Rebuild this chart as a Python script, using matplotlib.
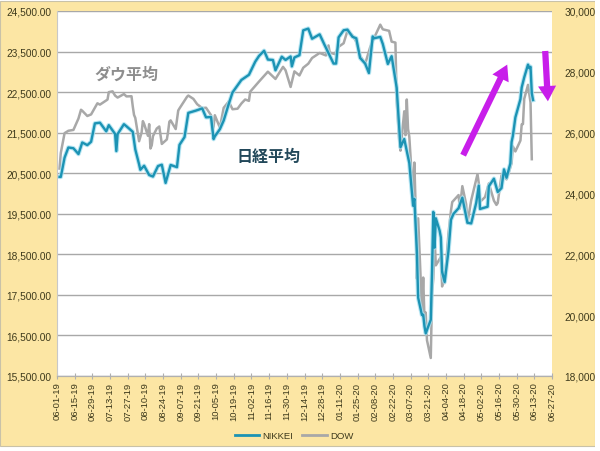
import numpy as np
import pandas as pd
import matplotlib
matplotlib.use('Agg')
import matplotlib.pyplot as plt
import matplotlib.dates as mdates
import matplotlib.patheffects as pe
from matplotlib.patches import Rectangle
from matplotlib.ticker import FuncFormatter

plt.rcParams['font.family'] = ['Liberation Sans', 'Noto Sans CJK JP', 'DejaVu Sans']

# ---- data ----
nk_dates = ['2019-06-03', '2019-06-04', '2019-06-07', '2019-06-10', '2019-06-14', '2019-06-18',
            '2019-06-21', '2019-06-25', '2019-06-28', '2019-07-01', '2019-07-05', '2019-07-10',
            '2019-07-12', '2019-07-17', '2019-07-18', '2019-07-19', '2019-07-24', '2019-07-26',
            '2019-07-31', '2019-08-02', '2019-08-05', '2019-08-06', '2019-08-09', '2019-08-13',
            '2019-08-16', '2019-08-20', '2019-08-23', '2019-08-26', '2019-08-30', '2019-09-04',
            '2019-09-06', '2019-09-10', '2019-09-13', '2019-09-19', '2019-09-24', '2019-09-27',
            '2019-10-01', '2019-10-03', '2019-10-04', '2019-10-08', '2019-10-11', '2019-10-15',
            '2019-10-18', '2019-10-25', '2019-10-31', '2019-11-05', '2019-11-08', '2019-11-12',
            '2019-11-15', '2019-11-19', '2019-11-21', '2019-11-26', '2019-11-29', '2019-12-03',
            '2019-12-04', '2019-12-06', '2019-12-10', '2019-12-13', '2019-12-17', '2019-12-20',
            '2019-12-26', '2019-12-30', '2020-01-06', '2020-01-08', '2020-01-10', '2020-01-14',
            '2020-01-17', '2020-01-21', '2020-01-24', '2020-01-27', '2020-01-31', '2020-02-03',
            '2020-02-06', '2020-02-07', '2020-02-12', '2020-02-14', '2020-02-18', '2020-02-21',
            '2020-02-25', '2020-02-28', '2020-03-02', '2020-03-06', '2020-03-09', '2020-03-10',
            '2020-03-12', '2020-03-13', '2020-03-16', '2020-03-17', '2020-03-18', '2020-03-19',
            '2020-03-23', '2020-03-24', '2020-03-25', '2020-03-26', '2020-03-27', '2020-03-30',
            '2020-03-31', '2020-04-01', '2020-04-03', '2020-04-06', '2020-04-07', '2020-04-08',
            '2020-04-10', '2020-04-14', '2020-04-17', '2020-04-21', '2020-04-24', '2020-04-28',
            '2020-04-30', '2020-05-01', '2020-05-07', '2020-05-08', '2020-05-12', '2020-05-15',
            '2020-05-18', '2020-05-20', '2020-05-22', '2020-05-25', '2020-05-26', '2020-05-27',
            '2020-05-29', '2020-06-02', '2020-06-03', '2020-06-05', '2020-06-08', '2020-06-09',
            '2020-06-10', '2020-06-11', '2020-06-12']
nk_vals = [20410, 20408, 20884, 21134, 21116, 20972,
           21258, 21193, 21275, 21729, 21746, 21533,
           21685, 21469, 21046, 21466, 21709, 21658,
           21521, 21087, 20720, 20585, 20684, 20455,
           20418, 20677, 20710, 20261, 20704, 20649,
           21199, 21392, 21988, 22044, 22098, 21879,
           21885, 21341, 21410, 21587, 21799, 22207,
           22492, 22799, 22927, 23251, 23392, 23520,
           23303, 23292, 23038, 23373, 23293, 23379,
           23135, 23354, 23410, 24023, 24066, 23816,
           23924, 23656, 23204, 23204, 23850, 24025,
           24041, 23864, 23827, 23343, 23205, 22971,
           23873, 23827, 23861, 23687, 23194, 23386,
           22605, 21142, 21344, 20749, 19698, 19867,
           18559, 17431, 17002, 17011, 16726, 16552,
           16887, 18092, 19546, 18664, 19389, 19084,
           18917, 18065, 17820, 18576, 18950, 19353,
           19498, 19638, 19897, 19280, 19262, 19771,
           20193, 19619, 19674, 20179, 20366, 20037,
           20133, 20595, 20388, 20741, 21271, 21419,
           21877, 22325, 22613, 22863, 23178, 23091,
           23124, 22472, 22305]

dow_dates = ['2019-06-03', '2019-06-04', '2019-06-07', '2019-06-10', '2019-06-14', '2019-06-18',
             '2019-06-20', '2019-06-21', '2019-06-25', '2019-06-28', '2019-07-03', '2019-07-05',
             '2019-07-11', '2019-07-12', '2019-07-15', '2019-07-17', '2019-07-19', '2019-07-24',
             '2019-07-26', '2019-07-30', '2019-07-31', '2019-08-01', '2019-08-02', '2019-08-05',
             '2019-08-07', '2019-08-08', '2019-08-09', '2019-08-12', '2019-08-13', '2019-08-14',
             '2019-08-15', '2019-08-16', '2019-08-19', '2019-08-21', '2019-08-23', '2019-08-27',
             '2019-08-28', '2019-08-29', '2019-08-30', '2019-09-03', '2019-09-05', '2019-09-06',
             '2019-09-12', '2019-09-13', '2019-09-17', '2019-09-20', '2019-09-24', '2019-09-27',
             '2019-10-01', '2019-10-02', '2019-10-03', '2019-10-04', '2019-10-08', '2019-10-11',
             '2019-10-15', '2019-10-18', '2019-10-22', '2019-10-25', '2019-10-28', '2019-10-31',
             '2019-11-01', '2019-11-08', '2019-11-15', '2019-11-21', '2019-11-27', '2019-11-29',
             '2019-12-03', '2019-12-06', '2019-12-10', '2019-12-13', '2019-12-17', '2019-12-20',
             '2019-12-26', '2019-12-31', '2020-01-02', '2020-01-03', '2020-01-07', '2020-01-10',
             '2020-01-14', '2020-01-17', '2020-01-21', '2020-01-24', '2020-01-27', '2020-01-31',
             '2020-02-04', '2020-02-07', '2020-02-12', '2020-02-14', '2020-02-19', '2020-02-21',
             '2020-02-24', '2020-02-25', '2020-02-27', '2020-02-28', '2020-03-02', '2020-03-03',
             '2020-03-04', '2020-03-05', '2020-03-06', '2020-03-09', '2020-03-10', '2020-03-11',
             '2020-03-12', '2020-03-13', '2020-03-16', '2020-03-17', '2020-03-18', '2020-03-19',
             '2020-03-20', '2020-03-23', '2020-03-24', '2020-03-25', '2020-03-26', '2020-03-27',
             '2020-03-31', '2020-04-01', '2020-04-02', '2020-04-03', '2020-04-06', '2020-04-08',
             '2020-04-09', '2020-04-14', '2020-04-15', '2020-04-17', '2020-04-20', '2020-04-21',
             '2020-04-24', '2020-04-29', '2020-04-30', '2020-05-01', '2020-05-05', '2020-05-08',
             '2020-05-12', '2020-05-14', '2020-05-15', '2020-05-18', '2020-05-20', '2020-05-22',
             '2020-05-26', '2020-05-27', '2020-05-29', '2020-06-02', '2020-06-03', '2020-06-04',
             '2020-06-05', '2020-06-08', '2020-06-09', '2020-06-10', '2020-06-11']
dow_vals = [24820, 25332, 25984, 26062, 26090, 26465,
            26753, 26720, 26548, 26600, 26966, 26922,
            27088, 27332, 27359, 27219, 27154, 27270,
            27192, 27198, 26864, 26583, 26485, 25718,
            26007, 26378, 26287, 25897, 26280, 25480,
            25580, 25887, 26136, 26203, 25629, 25778,
            26036, 26363, 26403, 26118, 26728, 26797,
            27182, 27220, 27111, 26935, 26808, 26820,
            26573, 26078, 26201, 26573, 26164, 26817,
            27024, 26770, 26788, 26958, 27090, 27046,
            27347, 27681, 28005, 27766, 28164, 28051,
            27503, 28015, 27881, 28135, 28268, 28455,
            28621, 28538, 28868, 28634, 28583, 28823,
            28940, 29348, 29196, 28990, 28535, 28256,
            28808, 29103, 29551, 29398, 29348, 28992,
            28961, 27081, 25767, 25409, 26703, 25917,
            27091, 26121, 25865, 23851, 25018, 23553,
            21200, 23185, 20189, 21237, 19899, 20087,
            19174, 18592, 20704, 21201, 22552, 21637,
            21917, 20944, 21413, 21053, 22680, 23434,
            23719, 23949, 23505, 24242, 23650, 23019,
            23775, 24634, 24346, 23724, 23883, 24331,
            23765, 23625, 23685, 24597, 24576, 24465,
            24995, 25548, 25383, 25742, 26270, 26282,
            27111, 27572, 27273, 26990, 25128]

tick_start = '2019-06-01'
tick_end = '2020-06-27'
left_ticks = [15500, 16500, 17500, 18500, 19500, 20500, 21500, 22500, 23500, 24500]
right_ticks = [18000, 20000, 22000, 24000, 26000, 28000, 30000]

# ---- colours ----
bg_yellow = '#FCE6A4'
nk_color = '#1C93B4'
nk_glow = '#A6E0F0'
dow_color = '#A8A8A8'
txt_color = '#3E3A1C'
arrow_color = '#C81EEA'

nk = pd.Series(nk_vals, index=pd.to_datetime(nk_dates))
dow = pd.Series(dow_vals, index=pd.to_datetime(dow_dates))
xticks = pd.date_range(tick_start, tick_end, freq='14D')

fig = plt.figure(figsize=(6.0, 4.52), dpi=100, facecolor='white')
fig.patches.append(Rectangle((0, 1 - 447 / 452), 595 / 600, 447 / 452 - 0.004,
                             transform=fig.transFigure, facecolor=bg_yellow,
                             edgecolor='#C9C2A8', linewidth=0.8, zorder=-10))

ax2 = fig.add_axes([57 / 600, 1 - 377 / 452, 495 / 600, 365 / 452])
ax = ax2.twinx()
# nikkei (left scale) drawn on top of dow
ax.yaxis.tick_left()
ax2.yaxis.tick_right()
ax.set_zorder(ax2.get_zorder() + 1)
ax.patch.set_visible(False)
ax2.set_facecolor('white')

ax2.plot(dow.index, dow.values, color=dow_color, lw=1.8, solid_joinstyle='round')
ax.plot(nk.index, nk.values, color=nk_color, lw=1.7, solid_joinstyle='round',
        path_effects=[pe.Stroke(linewidth=3.2, foreground=nk_glow, alpha=0.8), pe.Normal()])

ax.set_ylim(left_ticks[0], left_ticks[-1])
ax2.set_ylim(right_ticks[0], right_ticks[-1])
ax.set_yticks(left_ticks)
ax2.set_yticks(right_ticks)
ax.yaxis.set_major_formatter(FuncFormatter(lambda v, p: '{:,.2f}'.format(v)))
ax2.yaxis.set_major_formatter(FuncFormatter(lambda v, p: '{:,.2f}'.format(v)))
ax.grid(axis='y', color='#A8A8A8', lw=1.0, zorder=0)

for a in (ax, ax2):
    a.set_xlim(pd.Timestamp(tick_start), pd.Timestamp(tick_end))
    a.set_xticks(xticks)
    a.xaxis.set_major_formatter(mdates.DateFormatter('%m-%d-%y'))
    for s in ('top', 'right', 'left'):
        a.spines[s].set_visible(False)
    a.spines['bottom'].set_color('#B0B0B0')
    a.tick_params(axis='x', labelrotation=90, labelsize=6.8, colors='#B0B0B0',
                  labelcolor=txt_color, direction='inout', length=4, pad=2)
ax2.tick_params(axis='y', labelsize=7.3, labelcolor=txt_color, length=0, pad=9)
ax.tick_params(axis='y', labelsize=7.3, labelcolor=txt_color, length=0, pad=4)
ax.tick_params(axis='x', labelbottom=False, length=0)
ax.spines['left'].set_visible(True)
ax.spines['left'].set_color('#C8C8C8')

ax.text(0.141, 0.827, 'ダウ平均', transform=ax.transAxes, ha='center', va='center',
        fontsize=11.5, fontweight='bold', color='#8E8E8E',
        family=['Noto Sans CJK JP', 'DejaVu Sans'])
ax.text(0.428, 0.603, '日経平均', transform=ax.transAxes, ha='center', va='center',
        fontsize=11.5, fontweight='bold', color='#22485A',
        family=['Noto Sans CJK JP', 'DejaVu Sans'])

arrow_kw = dict(arrowstyle='simple,head_length=1.1,head_width=1.3,tail_width=0.45',
                color=arrow_color, lw=0)
ax.annotate('', xy=(0.912, 0.860), xytext=(0.818, 0.598), xycoords='axes fraction',
            arrowprops=arrow_kw, annotation_clip=False)
ax.annotate('', xy=(0.992, 0.745), xytext=(0.986, 0.898), xycoords='axes fraction',
            arrowprops=arrow_kw, annotation_clip=False)

handles = [plt.Line2D([], [], color=nk_color, lw=2), plt.Line2D([], [], color=dow_color, lw=2)]
fig.legend(handles, ['NIKKEI', 'DOW'], loc='center', bbox_to_anchor=(0.49, 0.034),
           ncol=2, frameon=False, fontsize=6.8, handlelength=2.6, handletextpad=0.3,
           columnspacing=1.0, labelcolor=txt_color)

# white strip that clips the right labels like the original screenshot
fig.patches.append(Rectangle((595 / 600, 0), 5 / 600, 1, transform=fig.transFigure,
                             facecolor='white', edgecolor='none', zorder=20))

fig.savefig('out.png', dpi=100, facecolor=fig.get_facecolor())
